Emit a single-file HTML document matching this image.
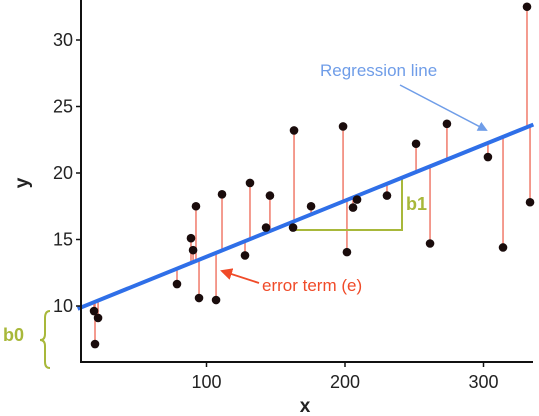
<!DOCTYPE html>
<html><head><meta charset="utf-8"><style>
html,body{margin:0;padding:0;background:#fff;}
svg{display:block;font-family:"Liberation Sans",sans-serif;}
</style></head><body>
<svg id="chart" width="539" height="416" viewBox="0 0 539 416">
<defs>
<marker id="ab" markerWidth="10" markerHeight="10" refX="8" refY="5" orient="auto" markerUnits="userSpaceOnUse"><path d="M0,0 L10,5 L0,10 z" fill="#6f9de8"/></marker>
<marker id="ar" markerWidth="12" markerHeight="12" refX="10" refY="6" orient="auto" markerUnits="userSpaceOnUse"><path d="M0,0 L12,6 L0,12 z" fill="#f04a28"/></marker>
</defs>
<g id="plot"></g>
</svg>
<script>
const xs=[19.5,18.8,21.7,78.7,88.8,90.3,92.4,94.6,106.9,111.2,127.8,131.4,143.0,145.8,162.5,163.2,175.5,198.6,201.4,208.7,205.8,230.3,251.3,261.4,273.6,303.2,314.1,331.4,333.6];
const ys=[7.14,9.62,9.10,11.65,15.1,14.2,17.5,10.6,10.45,18.4,13.8,19.25,15.9,18.3,15.9,23.2,17.5,23.5,14.05,18.0,17.4,18.3,22.2,14.7,23.7,21.2,14.4,32.5,17.8];
const intercept=9.495, slope=0.0421;
const xTicks=[100,200,300];
const yTicks=[10,15,20,25,30];
const NS="http://www.w3.org/2000/svg";
const X=v=>68+v*1.385, Y=v=>306-(v-10)*13.3;
const g=document.getElementById('plot');
function mk(t,a,txt){const e=document.createElementNS(NS,t);for(const k in a)e.setAttribute(k,a[k]);if(txt!=null)e.textContent=txt;g.appendChild(e);return e;}
// residuals
xs.forEach((x,i)=>{const e=mk('line',{x1:X(x),x2:X(x),y1:Y(ys[i]),y2:Y(intercept+slope*x),stroke:'#f07a6a','stroke-width':1.5});

});
// b1 bracket
const b1=mk('polyline',{points:`${X(162.5)},230 402,230 402,178`,fill:'none',stroke:'#a8b83a','stroke-width':2});

// regression line
const rl=mk('line',{x1:X(7),y1:Y(intercept+slope*7),x2:X(336),y2:Y(intercept+slope*336),stroke:'#2f6fe8','stroke-width':4});

// points
xs.forEach((x,i)=>{const c=mk('circle',{cx:X(x),cy:Y(ys[i]),r:4.3,fill:'#1a0c0c'});

});
// axes
const ya=mk('line',{x1:81,y1:0,x2:81,y2:363,stroke:'#111','stroke-width':2});
const xa=mk('line',{x1:80,y1:362,x2:533,y2:362,stroke:'#111','stroke-width':2});
xTicks.forEach(t=>{mk('line',{x1:X(t),x2:X(t),y1:362,y2:367,stroke:'#111','stroke-width':1.5});
const l=mk('text',{x:X(t),y:388,'text-anchor':'middle','font-size':18,fill:'#222'},t);
});
yTicks.forEach(t=>{mk('line',{x1:76,x2:81,y1:Y(t),y2:Y(t),stroke:'#111','stroke-width':1.5});
const l=mk('text',{x:73,y:Y(t)+6,'text-anchor':'end','font-size':18,fill:'#222'},t);
});
const xt=mk('text',{x:305,y:412,'text-anchor':'middle','font-size':19,'font-weight':'bold',fill:'#222'},'x');
const yt=mk('text',{x:0,y:0,transform:'translate(28,183) rotate(-90)','text-anchor':'middle','font-size':19,'font-weight':'bold',fill:'#222'},'y');
// annotations
const rt=mk('text',{x:320,y:76,'font-size':17,fill:'#6f9de8'},'Regression line');
mk('line',{x1:400,y1:85,x2:486,y2:130,stroke:'#6f9de8','stroke-width':1.5,'marker-end':'url(#ab)'});
const et=mk('text',{x:262,y:291,'font-size':17,fill:'#f04a28'},'error term (e)');
mk('line',{x1:259,y1:283,x2:222,y2:271,stroke:'#f04a28','stroke-width':1.8,'marker-end':'url(#ar)'});
const b1t=mk('text',{x:406,y:210,'font-size':18,'font-weight':'bold',fill:'#a8b83a'},'b1');
const b0t=mk('text',{x:3,y:341,'font-size':18,'font-weight':'bold',fill:'#a8b83a'},'b0');
const br=mk('path',{d:'M50,311 Q45,311 45,318 L45,334 Q45,340 40,340 Q45,340 45,346 L45,362 Q45,368 50,368',fill:'none',stroke:'#a8b83a','stroke-width':2});
</script>
</body></html>
